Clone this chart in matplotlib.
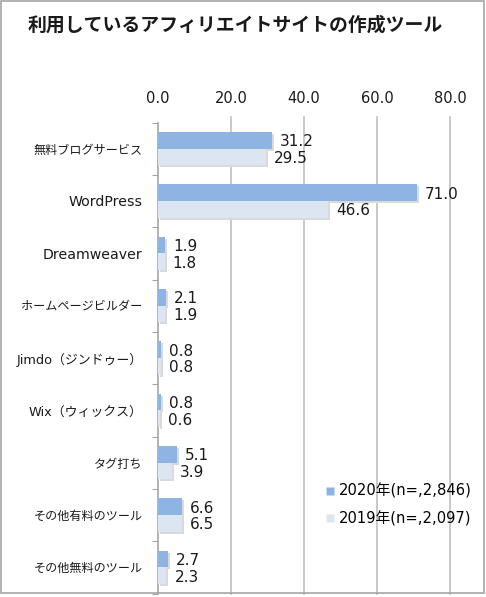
import matplotlib
matplotlib.use("Agg")
import matplotlib.pyplot as plt
import numpy as np
from matplotlib.patches import Rectangle
from matplotlib.lines import Line2D

plt.rcParams['font.family'] = ['Noto Sans CJK JP', 'DejaVu Sans']

categories = ["無料ブログサービス", "WordPress", "Dreamweaver", "ホームページビルダー",
              "Jimdo（ジンドゥー）", "Wix（ウィックス）", "タグ打ち", "その他有料のツール", "その他無料のツール"]
values_2020 = [31.2, 71.0, 1.9, 2.1, 0.8, 0.8, 5.1, 6.6, 2.7]
values_2019 = [29.5, 46.6, 1.8, 1.9, 0.8, 0.6, 3.9, 6.5, 2.3]
series_labels = ["2020年(n=,2,846)", "2019年(n=,2,097)"]
xticks = [0, 20, 40, 60, 80]

c2020 = "#8DB4E2"
c2019 = "#DCE6F2"

W, H = 486, 597
fig = plt.figure(figsize=(W/100, H/100), dpi=100)
fig.patch.set_facecolor("white")
fig.add_artist(Rectangle((1/W, 4/H), 483/W, 592/H, transform=fig.transFigure,
                         fill=False, edgecolor="#A6A6A6", linewidth=1.2))

fig.text(28/W, 1 - 25/H, "利用しているアフィリエイトサイトの作成ツール",
         fontsize=13.6, fontweight="bold", va="center", ha="left", color="#1a1a1a")

ax_left, ax_right = 158, 450
ax_top, ax_bot = 122.5, 593.5
ax = fig.add_axes([ax_left/W, 1 - ax_bot/H, (ax_right-ax_left)/W, (ax_bot-ax_top)/H])
n = len(categories)
ax.set_xlim(0, 80)
ax.set_ylim(n, 0)

bh = 0.32
ys = np.arange(n) + 0.5
dx = 80 / (ax_right - ax_left)
dy = n / (ax_bot - ax_top)
sx, sy = 2.0 * dx, 2.0 * dy

for t in xticks[1:]:
    ax.plot([t, t], [-5.5 * dy, n], color="#BFBFBF", linewidth=1.2, zorder=0, clip_on=False)

for i, (v1, v2) in enumerate(zip(values_2020, values_2019)):
    y1 = ys[i] - bh
    y2 = ys[i]
    for v, y, c in [(v1, y1, c2020), (v2, y2, c2019)]:
        ax.add_patch(Rectangle((sx, y + sy), v, bh, facecolor="#DADADA", edgecolor="none", zorder=2))
        ax.add_patch(Rectangle((0, y), v, bh, facecolor=c, edgecolor="none", zorder=3))
        ax.text(v + 8 * dx, y + bh/2 + 1.5 * dy, f"{v:.1f}", va="center", ha="left",
                fontsize=11, color="#1a1a1a", zorder=4, family=['DejaVu Sans'])

ax.set_xticks(xticks)
ax.set_xticklabels([f"{t:.1f}" for t in xticks], fontsize=10.5, color="#1a1a1a", family=['DejaVu Sans'])
ax.xaxis.tick_top()
ax.tick_params(axis="x", length=0, pad=12)

ax.set_yticks(np.arange(n+1))
ax.set_yticklabels([])
ax.set_yticks(ys, minor=True)
ax.set_yticklabels(categories, minor=True, color="#1a1a1a",
                   family=['DejaVu Sans', 'Noto Sans CJK JP'])
for lab, cat in zip(ax.get_yticklabels(minor=True), categories):
    if cat.isascii():
        lab.set_fontsize(10.2)
    elif any(ch.isascii() for ch in cat):
        lab.set_fontsize(9.3)
    else:
        lab.set_fontsize(8.7)
ax.tick_params(axis="y", which="major", length=4, color="#A6A6A6", direction="out")
ax.tick_params(axis="y", which="minor", length=0, pad=11)

for s in ["top", "right", "bottom"]:
    ax.spines[s].set_visible(False)
ax.spines["left"].set_color("#A6A6A6")
ax.spines["left"].set_linewidth(1.2)

handles = [Line2D([], [], marker="s", linestyle="none", markersize=6, markerfacecolor=c2020, markeredgecolor="none"),
           Line2D([], [], marker="s", linestyle="none", markersize=6, markerfacecolor=c2019, markeredgecolor="none")]
leg = fig.legend(handles, series_labels, loc="upper left", bbox_to_anchor=(318/W, 1 - 476/H),
                 frameon=False, handlelength=0.6, handletextpad=0.3, labelspacing=0.85,
                 borderpad=0, prop={'family': ['DejaVu Sans', 'Noto Sans CJK JP'], 'size': 10.6})

fig.savefig("out.png", dpi=100)
